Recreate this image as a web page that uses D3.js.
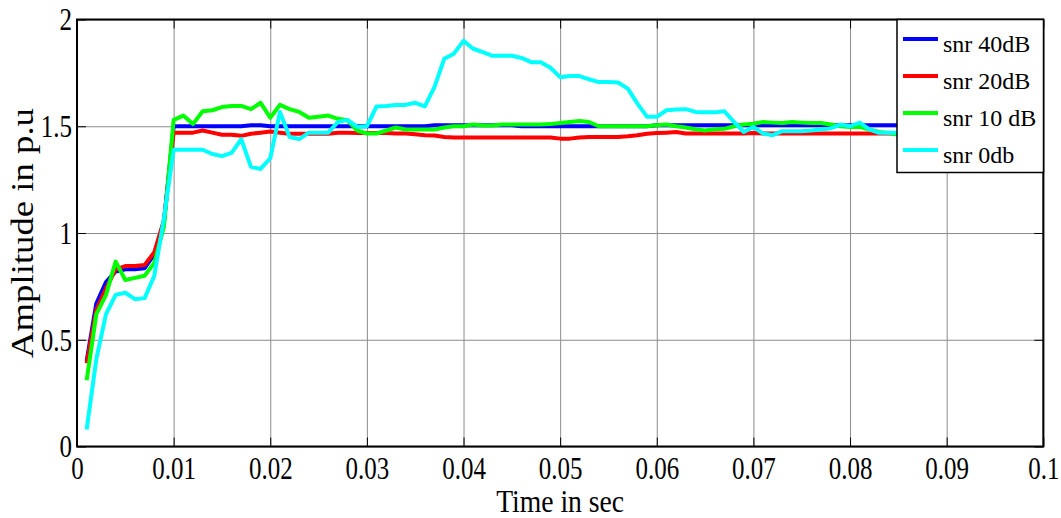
<!DOCTYPE html>
<html>
<head>
<meta charset="utf-8">
<script src="https://cdn.jsdelivr.net/npm/d3@7"></script>
<style>
  body { margin: 0; background: #fff; }
  svg { display: block; font-family: "Liberation Serif", "Times New Roman", serif; }
  .grid line { stroke: #8c8c8c; stroke-width: 1; }
  .grid path { display: none; }
  .ticks line { stroke: #000; stroke-width: 1; }
  .ticks path { display: none; }
  .ticks text { font-size: 32px; fill: #000; font-family: "Liberation Serif", serif; }
</style>
</head>
<body>
<div class="chart"></div>
<script>
// sample times (s)
var time = [
  0.001, 0.002, 0.003, 0.004, 0.005, 0.006, 0.007, 0.008, 0.009, 0.010,
  0.011, 0.012, 0.013, 0.014, 0.015, 0.016, 0.017, 0.018, 0.019, 0.020,
  0.021, 0.022, 0.023, 0.024, 0.025, 0.026, 0.027, 0.028, 0.029, 0.030,
  0.031, 0.032, 0.033, 0.034, 0.035, 0.036, 0.037, 0.038, 0.039, 0.040,
  0.041, 0.042, 0.043, 0.044, 0.045, 0.046, 0.047, 0.048, 0.049, 0.050,
  0.051, 0.052, 0.053, 0.054, 0.055, 0.056, 0.057, 0.058, 0.059, 0.060,
  0.061, 0.062, 0.063, 0.064, 0.065, 0.066, 0.067, 0.068, 0.069, 0.070,
  0.071, 0.072, 0.073, 0.074, 0.075, 0.076, 0.077, 0.078, 0.079, 0.080,
  0.081, 0.082, 0.083, 0.084, 0.085, 0.086, 0.087, 0.088, 0.089, 0.090,
  0.091, 0.092, 0.093, 0.094, 0.095, 0.096, 0.097, 0.098, 0.099, 0.100
];

var snr40 = [
  0.40, 0.67, 0.77, 0.82, 0.83, 0.83, 0.835, 0.90, 1.05, 1.50,
  1.50, 1.50, 1.50, 1.50, 1.50, 1.50, 1.50, 1.505, 1.505, 1.50,
  1.50, 1.50, 1.50, 1.50, 1.50, 1.50, 1.50, 1.50, 1.50, 1.50,
  1.50, 1.50, 1.50, 1.50, 1.50, 1.50, 1.505, 1.505, 1.505, 1.505,
  1.505, 1.505, 1.505, 1.505, 1.505, 1.50, 1.50, 1.50, 1.50, 1.50,
  1.50, 1.50, 1.50, 1.50, 1.50, 1.50, 1.50, 1.50, 1.50, 1.505,
  1.505, 1.505, 1.505, 1.505, 1.505, 1.505, 1.505, 1.505, 1.505, 1.505,
  1.505, 1.505, 1.505, 1.505, 1.505, 1.505, 1.505, 1.505, 1.505, 1.505,
  1.505, 1.505, 1.505, 1.505, 1.505, 1.50, 1.50, 1.50, 1.50, 1.50,
  1.50, 1.50, 1.50, 1.50, 1.50, 1.50, 1.50, 1.50, 1.50, 1.50
];

var snr20 = [
  0.39, 0.64, 0.74, 0.83, 0.845, 0.845, 0.85, 0.91, 1.06, 1.47,
  1.47, 1.47, 1.48, 1.47, 1.46, 1.46, 1.455, 1.465, 1.47, 1.475,
  1.47, 1.465, 1.465, 1.465, 1.465, 1.465, 1.47, 1.47, 1.468, 1.468,
  1.468, 1.468, 1.466, 1.466, 1.463, 1.458, 1.457, 1.45, 1.447, 1.447,
  1.447, 1.447, 1.447, 1.447, 1.447, 1.447, 1.447, 1.447, 1.447, 1.442,
  1.442, 1.447, 1.45, 1.45, 1.45, 1.45, 1.453, 1.458, 1.465, 1.468,
  1.47, 1.473, 1.466, 1.466, 1.466, 1.466, 1.466, 1.466, 1.466, 1.468,
  1.466, 1.466, 1.466, 1.466, 1.466, 1.466, 1.466, 1.466, 1.466, 1.466,
  1.466, 1.466, 1.466, 1.466, 1.466, 1.47, 1.47, 1.47, 1.47, 1.47,
  1.47, 1.47, 1.47, 1.47, 1.47, 1.47, 1.47, 1.47, 1.47, 1.47
];

var snr10 = [
  0.31, 0.62, 0.71, 0.866, 0.78, 0.79, 0.80, 0.86, 1.03, 1.53,
  1.55, 1.51, 1.57, 1.575, 1.59, 1.595, 1.595, 1.58, 1.61, 1.54,
  1.60, 1.58, 1.567, 1.54, 1.545, 1.55, 1.535, 1.528, 1.48, 1.466,
  1.466, 1.48, 1.494, 1.485, 1.485, 1.485, 1.485, 1.494, 1.50, 1.50,
  1.508, 1.504, 1.504, 1.508, 1.508, 1.508, 1.508, 1.508, 1.51, 1.515,
  1.52, 1.525, 1.52, 1.50, 1.50, 1.50, 1.50, 1.50, 1.50, 1.505,
  1.508, 1.50, 1.494, 1.486, 1.48, 1.486, 1.488, 1.50, 1.508, 1.512,
  1.52, 1.517, 1.515, 1.52, 1.517, 1.515, 1.515, 1.508, 1.50, 1.497,
  1.497, 1.485, 1.473, 1.469, 1.46, 1.47, 1.48, 1.49, 1.50, 1.50,
  1.49, 1.48, 1.49, 1.50, 1.50, 1.49, 1.50, 1.50, 1.49, 1.50
];

var snr0 = [
  0.08, 0.41, 0.62, 0.71, 0.72, 0.69, 0.695, 0.80, 1.07, 1.39,
  1.39, 1.39, 1.39, 1.37, 1.36, 1.375, 1.44, 1.31, 1.30, 1.35,
  1.567, 1.45, 1.44, 1.47, 1.47, 1.47, 1.52, 1.53, 1.497, 1.50,
  1.593, 1.595, 1.60, 1.60, 1.61, 1.593, 1.684, 1.816, 1.84, 1.90,
  1.863, 1.847, 1.83, 1.83, 1.83, 1.82, 1.80, 1.80, 1.774, 1.73,
  1.735, 1.735, 1.72, 1.707, 1.707, 1.705, 1.676, 1.606, 1.544, 1.544,
  1.575, 1.578, 1.58, 1.567, 1.565, 1.565, 1.57, 1.52, 1.473, 1.497,
  1.466, 1.458, 1.477, 1.477, 1.477, 1.48, 1.485, 1.49, 1.508, 1.50,
  1.517, 1.485, 1.469, 1.469, 1.47, 1.47, 1.48, 1.46, 1.47, 1.49,
  1.48, 1.47, 1.46, 1.48, 1.47, 1.49, 1.48, 1.47, 1.48, 1.47
];

var seriesNames = ["snr 40dB", "snr 20dB", "snr 10 dB", "snr 0db"];
var seriesColors = ["#0000ff", "#ff0000", "#00ff00", "#00ffff"];
var seriesValues = [snr40, snr20, snr10, snr0];

var xTicks = [0, 0.01, 0.02, 0.03, 0.04, 0.05, 0.06, 0.07, 0.08, 0.09, 0.1];
var xTickLabels = ["0", "0.01", "0.02", "0.03", "0.04", "0.05", "0.06", "0.07", "0.08", "0.09", "0.1"];
var yTicks = [0, 0.5, 1, 1.5, 2];
var yTickLabels = ["0", "0.5", "1", "1.5", "2"];

window.onload = function() {
  var W = 1061, H = 518;
  var margin = { top: 19.5, left: 77, right: 17.7, bottom: 71.5 };
  var w = W - margin.left - margin.right;
  var h = H - margin.top - margin.bottom;

  var svg = d3.select(".chart").append("svg")
    .attr("width", W)
    .attr("height", H);

  var g = svg.append("g")
    .attr("transform", "translate(" + margin.left + "," + margin.top + ")");

  var xScale = d3.scaleLinear().domain([0, 0.1]).range([0, w]);
  var yScale = d3.scaleLinear().domain([0, 2]).range([h, 0]);

  // grid
  g.append("g").attr("class", "grid")
    .attr("transform", "translate(0," + h + ")")
    .call(d3.axisBottom(xScale).tickValues(xTicks).tickSize(-h).tickFormat(""));
  g.append("g").attr("class", "grid")
    .call(d3.axisLeft(yScale).tickValues(yTicks).tickSize(-w).tickFormat(""));

  // lines
  var line = d3.line()
    .x(function(d, i) { return xScale(time[i]); })
    .y(function(d) { return yScale(d); });

  seriesValues.forEach(function(vals, k) {
    g.append("path")
      .datum(vals)
      .attr("fill", "none")
      .attr("stroke", seriesColors[k])
      .attr("stroke-width", 4)
      .attr("stroke-linejoin", "round")
      .attr("d", line);
  });

  // ticks on all four sides
  g.append("g").attr("class", "ticks")
    .attr("transform", "translate(0," + h + ")")
    .call(d3.axisBottom(xScale).tickValues(xTicks).tickSize(-9).tickPadding(10)
      .tickFormat(function(d, i) { return xTickLabels[i]; }));
  g.append("g").attr("class", "ticks")
    .call(d3.axisTop(xScale).tickValues(xTicks).tickSize(-9).tickFormat(""));
  g.append("g").attr("class", "ticks")
    .call(d3.axisLeft(yScale).tickValues(yTicks).tickSize(-9).tickPadding(5)
      .tickFormat(function(d, i) { return yTickLabels[i]; }));
  g.append("g").attr("class", "ticks")
    .attr("transform", "translate(" + w + ",0)")
    .call(d3.axisRight(yScale).tickValues(yTicks).tickSize(-9).tickFormat(""));

  // narrow tick labels
  svg.selectAll(".ticks text").each(function() {
    var len = this.getComputedTextLength();
    d3.select(this).attr("textLength", len * 0.78).attr("lengthAdjust", "spacingAndGlyphs");
  });

  // box
  g.append("rect")
    .attr("width", w).attr("height", h)
    .attr("fill", "none").attr("stroke", "#000").attr("stroke-width", 2);

  // axis titles
  svg.append("text")
    .attr("x", margin.left + w / 2).attr("y", 512)
    .attr("text-anchor", "middle")
    .attr("font-size", 32)
    .attr("textLength", 128).attr("lengthAdjust", "spacingAndGlyphs")
    .text("Time in sec");

  svg.append("text")
    .attr("transform", "translate(33," + (margin.top + h / 2) + ") rotate(-90)")
    .attr("text-anchor", "middle")
    .attr("font-size", 31)
    .attr("textLength", 250).attr("lengthAdjust", "spacingAndGlyphs")
    .text("Amplitude in p.u");

  // legend
  var lg = svg.append("g").attr("transform", "translate(897,19.5)");
  lg.append("rect")
    .attr("width", 146.5).attr("height", 153)
    .attr("fill", "#fff").attr("stroke", "#000").attr("stroke-width", 1.5);

  seriesNames.forEach(function(name, k) {
    var cy = 19.5 + k * 37;
    lg.append("line")
      .attr("x1", 6).attr("x2", 41).attr("y1", cy).attr("y2", cy)
      .attr("stroke", seriesColors[k]).attr("stroke-width", 4);
    lg.append("text")
      .attr("x", 46).attr("y", cy + 12.5)
      .attr("font-size", 24)
      .text(name);
  });
};
</script>
</body>
</html>
